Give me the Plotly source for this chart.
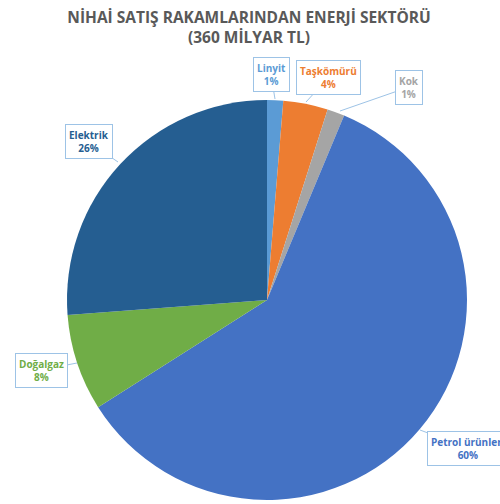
import plotly.graph_objects as go

categories = ["Linyit", "Taşkömürü", "Kok", "Petrol ürünleri", "Doğalgaz", "Elektrik"]
shares = [1.3, 3.6, 1.4, 59.7, 7.8, 26.2]
colors = ["#5B9BD5", "#ED7D31", "#A5A5A5", "#4472C4", "#70AD47", "#255E91"]
label_colors = ["#5B9BD5", "#ED7D31", "#A5A5A5", "#4472C4", "#70AD47", "#255E91"]

W, H = 500, 504
def px(x): return x / W
def py(y): return 1 - y / H

fig = go.Figure(go.Pie(
    labels=categories, values=shares, sort=False, direction="clockwise", rotation=0,
    marker=dict(colors=colors, line=dict(width=0)),
    textinfo="none", hoverinfo="label+percent", showlegend=False,
    domain=dict(x=[px(67), px(467)], y=[py(502), py(98)]),
))

# (tip x, tip y, box center x, box center y) in pixels, same order as categories
label_pos = [
    (275, 99, 271, 75),
    (306, 102, 328, 78),
    (340, 111, 409, 87),
    (420, 430, 468, 448),
    (77, 363, 41, 370),
    (118, 162, 89, 142),
]
total = sum(shares)
for cat, v, c, (tx, ty, bx, by) in zip(categories, shares, label_colors, label_pos):
    fig.add_annotation(
        x=px(tx), y=py(ty), xref="paper", yref="paper",
        ax=bx - tx, ay=by - ty, axref="pixel", ayref="pixel",
        text=f"<b>{cat}</b><br><b>{round(v / total * 100)}%</b>",
        showarrow=True, arrowhead=0, arrowwidth=1, arrowcolor="#9DC3E6",
        bordercolor="#9DC3E6", borderwidth=1, borderpad=3, bgcolor="white",
        font=dict(family="Open Sans", size=10, color=c), align="center",
    )

fig.update_layout(
    width=W, height=H, margin=dict(l=0, r=0, t=0, b=0),
    paper_bgcolor="white", plot_bgcolor="white",
    title=dict(
        text="<b>NİHAİ SATIŞ RAKAMLARINDAN ENERJİ SEKTÖRÜ</b><br><b>(360 MİLYAR TL)</b>",
        x=0.498, xanchor="center", y=0.955, yanchor="top",
        font=dict(family="Open Sans", size=15.5, color="#595959"),
    ),
)
fig.write_html("out.html", config={"displayModeBar": False},
               post_script="document.body.style.margin='0';")
